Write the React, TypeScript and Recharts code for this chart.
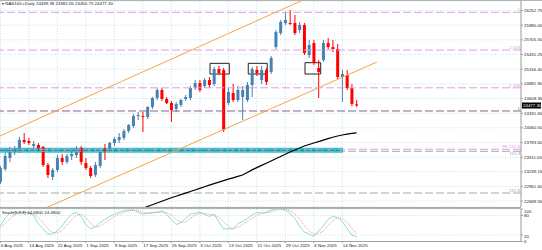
import React from "react";
import {
  ComposedChart,
  LineChart,
  Line,
  Bar,
  XAxis,
  YAxis,
  CartesianGrid,
  ReferenceLine,
  ReferenceArea,
} from "recharts";

// NAS100.c daily candles, bar 0 = 6 Aug 2025
const opens = [
  23047, 23290, 23496, 23608, 23627, 23832, 23814, 23720, 23739, 23702,
  23365, 23141, 23271, 23496, 23421, 23533, 23552, 23683, 23402, 23309,
  23178, 23346, 23664, 23645, 23776, 23832, 23870, 24001, 24094, 24281,
  24281, 24263, 24450, 24618, 24767, 24599, 24524, 24412, 24487, 24599,
  24618, 24805, 24898, 24842, 24954, 24880, 25160, 25141, 24524, 24711,
  24580, 24637, 24580, 24861, 25141, 24954, 25141, 25104, 25571, 25833,
  26020, 26020, 26020, 25889, 25983, 25422, 25646, 25179, 25328, 25646,
  25571, 25534, 25011, 25048, 24805, 24499.38,
];
const highs = [
  23346, 23589, 23702, 23720, 23889, 23963, 23870, 23814, 23776, 23720,
  23402, 23309, 23552, 23571, 23571, 23627, 23720, 23720, 23496, 23346,
  23421, 23627, 23758, 23795, 23889, 23963, 24038, 24132, 24319, 24356,
  24356, 24468, 24637, 24805, 24805, 24637, 24562, 24543, 24599, 24674,
  24842, 24954, 24954, 24992, 25011, 25198, 25216, 25179, 24805, 24880,
  24842, 24842, 24917, 25198, 25216, 25216, 25179, 25403, 25889, 26076,
  26226, 26263, 26170, 26039, 26020, 25702, 25702, 25328, 25702, 25740,
  25702, 25628, 25141, 25141, 24880, 24582.05,
];
const lows = [
  23010, 23253, 23421, 23552, 23589, 23758, 23739, 23664, 23645, 23328,
  23122, 23084, 23234, 23365, 23384, 23458, 23496, 23365, 23271, 23122,
  23141, 23309, 23458, 23608, 23720, 23776, 23832, 23963, 24057, 24206,
  23982, 24225, 24412, 24580, 24562, 24506, 24169, 24356, 24450, 24562,
  24580, 24767, 24730, 24805, 24805, 24842, 25048, 23982, 24487, 24543,
  24543, 24206, 24543, 24637, 25029, 24880, 24861, 25067, 25534, 25796,
  25983, 25983, 25796, 25833, 25422, 25366, 25235, 24618, 25291, 25534,
  25478, 24973, 24543, 24767, 24468, 24450.75,
];
const closes = [
  23309, 23533, 23645, 23664, 23832, 23795, 23776, 23758, 23683, 23365,
  23178, 23271, 23496, 23421, 23533, 23571, 23683, 23421, 23309, 23159,
  23365, 23608, 23627, 23776, 23851, 23889, 24001, 24113, 24281, 24300,
  24263, 24450, 24618, 24767, 24599, 24524, 24393, 24506, 24580, 24637,
  24805, 24898, 24767, 24954, 24861, 25160, 25085, 24019, 24730, 24580,
  24767, 24767, 24861, 25160, 25085, 25141, 24917, 25366, 25852, 26039,
  26076, 26002, 25833, 25983, 25459, 25609, 25272, 25104, 25646, 25571,
  25534, 25011, 25067, 24805, 24506, 24477.3,
];

// long moving average (black), first value at bar 30
const maStart = 30;
const maValues = [
  22551, 22589, 22621, 22654, 22686, 22720, 22752, 22780, 22810, 22838,
  22868, 22897, 22927, 22957, 22987, 23017, 23043, 23073, 23099, 23125,
  23152, 23178, 23226, 23273, 23316, 23357, 23398, 23440, 23481, 23524,
  23565, 23608, 23645, 23683, 23720, 23748, 23776, 23802, 23830, 23857,
  23883, 23907, 23926, 23941, 23956, 23967,
];

// Stochastic (5,3,3)
const stochK = [
  48, 71, 87, 90, 90, 90, 87, 81, 55, 39, 23, 23, 32, 48, 68, 84, 90, 77, 52,
  39, 45, 58, 68, 77, 84, 90, 94, 97, 97, 90, 84, 87, 90, 90, 94, 84, 68, 52,
  58, 71, 84, 87, 90, 84, 77, 84, 61, 39, 39, 39, 55, 61, 71, 81, 90, 87, 90,
  97, 100, 100, 97, 87, 71, 48, 29, 23, 16, 32, 48, 68, 77, 74, 62, 40, 20,
  14.68,
];
const stochD = [
  42, 55, 69, 83, 89, 90, 89, 86, 74, 58, 39, 28, 26, 34, 49, 67, 81, 84, 73,
  56, 45, 47, 57, 68, 76, 84, 89, 94, 96, 95, 90, 87, 87, 89, 91, 89, 82, 68,
  59, 60, 71, 81, 87, 87, 84, 82, 74, 61, 46, 39, 44, 52, 62, 71, 81, 86, 89,
  91, 96, 99, 99, 95, 85, 69, 49, 33, 23, 24, 32, 49, 64, 73, 71, 59, 41,
  24.48,
];

const priceTicks = [
  22689.55, 22961.6, 23239.15, 23511.05, 23783.6, 24060.5, 24331.65, 24609.35,
  24881.9, 25156.4, 25431.25, 25705.5, 25980.0, 26252.75,
];
const stochTicks = [0, 20, 80, 100];
const dateTicks = [0, 6, 12, 18, 24, 30, 36, 42, 48, 54, 60, 66, 72];
const dateLabels = [
  "6 Aug 2025", "14 Aug 2025", "22 Aug 2025", "1 Sep 2025", "9 Sep 2025",
  "17 Sep 2025", "25 Sep 2025", "3 Oct 2025", "13 Oct 2025", "21 Oct 2025",
  "29 Oct 2025", "6 Nov 2025", "14 Nov 2025",
];

// fibo expansion levels
const fiboPrices = [26220, 25515, 24808, 24375, 23659, 23621, 22841];
const fiboNames = ["1", "2.618", "2.138", "1", "FE 161.8", "161.8", "261.8"];
const lastPrice = 24477.3;

// drawn objects (bar index, price)
const channelUpper = [[-0.063, 23907], [69.4, 26676]];
const channelLower = [[4.15, 22349], [79.3, 25291]];
const boxes = [
  [44.15, 48.2, 25066, 25266],
  [52.2, 56.2, 25066, 25266],
  [64.15, 67.45, 25066, 25278],
];
const zone = [-0.063, 72.15, 23595, 23688, 23641];

const X_MIN = -0.063;
const X_MAX = 109.62;
const Y_MIN = 22579;
const Y_MAX = 26432;

const FONT = "'Liberation Sans', Arial, sans-serif";
const FS = 4.4;
const BULL = "#4682b4";
const BEAR = "#ff0000";
const LILAC = "#d9a0dd";
const GREY = "#a8a8a8";
const GRID = "#c4e4ea";
const FRAME = "#a0a0a0";

const candles = opens.map((o, i) => ({
  i,
  o,
  h: highs[i],
  l: lows[i],
  c: closes[i],
  ma: i >= maStart ? maValues[i - maStart] : null,
  k: stochK[i],
  d: stochD[i],
}));

function Candle(props: any) {
  const { x, y, width, height, payload } = props;
  if (!payload || payload.o == null) return null;
  const { o, h, l, c } = payload;
  const color = c >= o ? BULL : BEAR;
  const top = Math.min(y, y + height);
  const hgt = Math.abs(height);
  const k = hgt / (h - l || 1);
  const bTop = top + (h - Math.max(o, c)) * k;
  const bBot = top + (h - Math.min(o, c)) * k;
  const cx = x + width / 2;
  return (
    <g>
      <line x1={cx} x2={cx} y1={top} y2={top + hgt} stroke={color} strokeWidth={1} />
      <rect x={x} y={bTop} width={width} height={Math.max(bBot - bTop, 0.8)} fill={color} />
    </g>
  );
}

function PriceTick(props: any) {
  const { x, y, payload } = props;
  return (
    <text x={x} y={y} dy={1.5} fontSize={FS} fill="#222" fontFamily={FONT} textAnchor="start">
      {Number(payload.value).toFixed(2)}
    </text>
  );
}

function StochTick(props: any) {
  const { x, y, payload } = props;
  const nudge: Record<number, number> = { 100: 2.5, 80: -0.5, 20: 1, 0: -0.5 };
  return (
    <text x={x} y={y + (nudge[payload.value] || 0)} dy={1.5} fontSize={FS} fill="#222" fontFamily={FONT}>
      {payload.value}
    </text>
  );
}

function DateTick(props: any) {
  const { x, y, payload } = props;
  const idx = dateTicks.indexOf(payload.value);
  return (
    <g>
      <line x1={x} x2={x} y1={y} y2={y + 1.5} stroke={FRAME} />
      <text x={x + 0.5} y={y + 5.8} fontSize={FS} fill="#222" fontFamily={FONT} textAnchor="start">
        {dateLabels[idx]}
      </text>
    </g>
  );
}

function LastTag(props: any) {
  const { viewBox } = props;
  const x = viewBox.x + viewBox.width;
  const y = viewBox.y;
  return (
    <g>
      <rect x={x + 1} y={y - 3} width={19} height={6} fill="#000" />
      <text x={x + 2} y={y + 1.6} fontSize={FS} fill="#fff" fontFamily={FONT}>
        {lastPrice.toFixed(2)}
      </text>
    </g>
  );
}

export default function App() {
  return (
    <div
      style={{
        position: "absolute",
        left: 0,
        top: 0,
        width: 542,
        height: 250,
        background: "#fff",
        overflow: "hidden",
        fontFamily: FONT,
      }}
    >
      <div style={{ position: "absolute", left: 0, top: 0 }}>
        <ComposedChart width={542} height={207} data={candles} margin={{ top: 1, right: 0, bottom: 0, left: 0 }}>
          <CartesianGrid stroke={GRID} strokeDasharray="1 1.5" />
          <XAxis type="number" dataKey="i" domain={[X_MIN, X_MAX]} ticks={dateTicks} interval={0} allowDataOverflow hide />
          <YAxis
            orientation="right"
            width={21}
            domain={[Y_MIN, Y_MAX]}
            ticks={priceTicks}
            interval={0}
            allowDataOverflow
            axisLine={{ stroke: FRAME }}
            tickLine={{ stroke: FRAME }}
            tickSize={2}
            tickMargin={1}
            tick={<PriceTick />}
          />
          <ReferenceArea
            x1={zone[0]}
            x2={zone[1]}
            y1={zone[2]}
            y2={zone[3]}
            fill="#22c3cc"
            fillOpacity={1}
            stroke="none"
            ifOverflow="hidden"
          />
          {fiboPrices.map((p, n) => {
            const col = n === 3 ? "#86608a" : n >= 5 ? GREY : LILAC;
            return (
              <ReferenceLine
                key={n}
                y={p}
                stroke={col}
                strokeDasharray="8 3"
                label={{
                  value: fiboNames[n],
                  position: n === 5 ? "insideTopRight" : "insideBottomRight",
                  fill: col,
                  fontSize: FS,
                  offset: n === 5 ? 0.5 : 1,
                }}
              />
            );
          })}
          <ReferenceLine
            segment={[{ x: zone[0], y: zone[4] }, { x: zone[1], y: zone[4] }]}
            stroke="#158892"
            strokeDasharray="4 2"
            ifOverflow="hidden"
          />
          <ReferenceLine
            segment={channelUpper.map(([x, y]) => ({ x, y }))}
            stroke="#f8a448"
            ifOverflow="hidden"
          />
          <ReferenceLine
            segment={channelLower.map(([x, y]) => ({ x, y }))}
            stroke="#f8a448"
            ifOverflow="hidden"
          />
          {boxes.map((b, n) => (
            <ReferenceArea
              key={n}
              x1={b[0]}
              x2={b[1]}
              y1={b[2]}
              y2={b[3]}
              fill="none"
              stroke="#222"
              strokeWidth={1}
              ifOverflow="hidden"
            />
          ))}
          <Line
            dataKey="ma"
            stroke="#000"
            strokeWidth={1.2}
            dot={false}
            isAnimationActive={false}
            connectNulls={false}
          />
          <Bar
            dataKey={(d: any) => [d.l, d.h]}
            barSize={3}
            shape={<Candle />}
            isAnimationActive={false}
          />
          <ReferenceLine y={lastPrice} stroke="none" label={<LastTag />} />
        </ComposedChart>
      </div>

      <div style={{ position: "absolute", left: 0, top: 0, width: 542, height: 1, background: "#b4b4b4" }} />
      <div style={{ position: "absolute", left: 0, top: 207, width: 521, height: 2, background: "#a9a9a9" }} />

      <div style={{ position: "absolute", left: 0, top: 208 }}>
        <LineChart width={542} height={42} data={candles} margin={{ top: 1, right: 0, bottom: 0, left: 0 }}>
          <CartesianGrid stroke={GRID} strokeDasharray="1 1.5" />
          <XAxis
            type="number"
            dataKey="i"
            domain={[X_MIN, X_MAX]}
            ticks={dateTicks}
            interval={0}
            allowDataOverflow
            height={8.5}
            axisLine={{ stroke: FRAME }}
            tickLine={false}
            tickSize={0}
            tickMargin={0}
            tick={<DateTick />}
          />
          <YAxis
            orientation="right"
            width={21}
            domain={[0, 100]}
            ticks={stochTicks}
            interval={0}
            axisLine={{ stroke: FRAME }}
            tickLine={{ stroke: FRAME }}
            tickSize={2}
            tickMargin={1}
            tick={<StochTick />}
          />
          <Line dataKey="k" stroke="#8adcdc" strokeWidth={1} dot={false} isAnimationActive={false} />
          <Line
            dataKey="d"
            stroke="#ff9090"
            strokeWidth={1}
            strokeDasharray="1 1"
            dot={false}
            isAnimationActive={false}
          />
        </LineChart>
      </div>

      <svg width={542} height={250} style={{ position: "absolute", left: 0, top: 0, pointerEvents: "none" }}>
        <text x={2} y={5} fontSize={FS} fill="#222" fontFamily={FONT}>
          ▾ NAS100.cDaily  24499.38 24582.05 24450.75 24477.30
        </text>
        <text x={2} y={214} fontSize={FS} fill="#222" fontFamily={FONT}>
          Stoch(5,3,3) {stochK[stochK.length - 1].toFixed(4)} {stochD[stochD.length - 1].toFixed(4)}
        </text>
      </svg>
    </div>
  );
}
